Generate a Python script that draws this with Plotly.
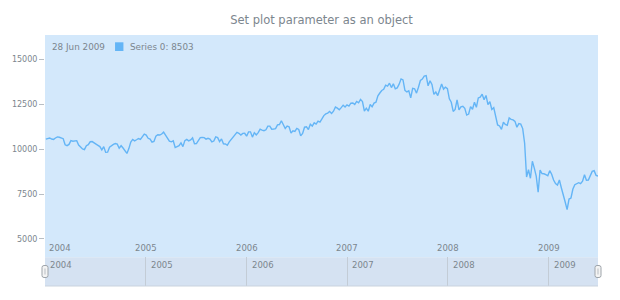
import pandas as pd
import plotly.graph_objects as go

# ---- data (weekly values) ----
start_date = "2004-01-04"
v2004 = [10560, 10600, 10620, 10560, 10540, 10620, 10680, 10660, 10600, 10580,
         10240, 10190, 10260, 10470, 10440, 10460, 10470, 10230, 10120, 10010,
         9970, 10190, 10250, 10410, 10420, 10370, 10280, 10210, 10140, 9960,
         10140, 9820, 9830, 10110, 10200, 10260, 10310, 10280, 10050, 10190,
         10060, 9930, 9760, 10030, 10390, 10540, 10460, 10520, 10590, 10540,
         10660, 10830]
v2005 = [10783, 10603, 10558, 10393, 10427, 10716, 10796, 10785, 10841, 10941,
         10774, 10629, 10442, 10404, 10461, 10088, 10157, 10193, 10345, 10140,
         10471, 10542, 10460, 10512, 10623, 10297, 10303, 10449, 10640, 10651,
         10641, 10558, 10600, 10559, 10397, 10447, 10678, 10641, 10419, 10569,
         10292, 10287, 10215, 10402, 10530, 10686, 10766, 10931, 10877, 10779,
         10875, 10883]
v2006 = [10718, 10959, 10960, 10667, 10907, 10794, 10920, 11115, 11061, 11022,
         11076, 11279, 11280, 11109, 11120, 11137, 11347, 11367, 11577, 11380,
         11144, 11278, 11247, 10891, 11015, 10989, 11150, 11091, 10739, 10868,
         11219, 11240, 11088, 11381, 11284, 11464, 11392, 11560, 11508, 11679,
         11866, 11961, 12002, 12090, 11986, 12108, 12342, 12280, 12194, 12307,
         12445, 12343, 12463]
v2007 = [12398, 12556, 12566, 12487, 12653, 12581, 12768, 12647, 12114, 12277,
         12111, 12481, 12354, 12560, 12613, 12962, 13121, 13264, 13327, 13557,
         13507, 13668, 13424, 13640, 13361, 13409, 13612, 13908, 13851, 13266,
         13182, 13240, 12850, 13379, 13358, 13114, 13442, 13821, 13896, 14066,
         14093, 13522, 13807, 13596, 13043, 13176, 12981, 13372, 13625, 13339,
         13450, 13366]
v2008 = [12800, 12606, 12099, 12207, 12743, 12183, 12348, 12381, 12266, 11894,
         11951, 12361, 12216, 12609, 12325, 12849, 12891, 13058, 12745, 12986,
         12479, 12638, 12209, 12307, 11843, 11346, 11288, 11100, 11496, 11370,
         11326, 11734, 11659, 11628, 11543, 11220, 11421, 11388, 11143, 10325,
         8451, 8852, 8378, 9325, 8943, 8497, 7600, 8829, 8635, 8629,
         8579, 8515]
v2009 = [8800, 8600, 8280, 8080, 8000, 8280, 7850, 7365, 7060, 6630,
         7220, 7280, 7780, 8020, 8080, 8130, 8080, 8210, 8570, 8270,
         8280, 8500, 8760, 8800, 8540, 8503]

values = v2004 + v2005 + v2006 + v2007 + v2008 + v2009
dates = pd.date_range(start_date, periods=len(values), freq="W-SUN")

year_ticks = ["2004", "2005", "2006", "2007", "2008", "2009"]
y_ticks = [5000, 7500, 10000, 12500, 15000]
title_text = "Set plot parameter as an object"
series_name = "Series 0"

# ---- style ----
FONT = "DejaVu Sans"
TXT = "#7c868e"
LINE = "#64b5f6"
MAIN_BG = "#d3e8fb"
SCR_BG = "#d5e2f2"
W, H = 620, 300
ML, MR, MT, MB = 43, 22, 35, 14
split = (H - MB - 257.3) / (H - MT - MB)

def px(x):
    return (x - ML) / (W - ML - MR)

def py(y):
    return (H - MB - y) / (H - MT - MB)

x_range = [pd.Timestamp("2004-01-01"), dates[-1]]

fig = go.Figure()
fig.add_trace(go.Scatter(x=dates, y=values, mode="lines",
                         line=dict(color=LINE, width=1.4),
                         name=series_name, hoverinfo="skip",
                         xaxis="x", yaxis="y"))
# empty trace for scroller axes
fig.add_trace(go.Scatter(x=[dates[0]], y=[None], mode="lines",
                         xaxis="x2", yaxis="y2", showlegend=False,
                         hoverinfo="skip"))

shapes = [
    dict(type="rect", xref="x domain", yref="y domain", x0=0, x1=1, y0=0, y1=1,
         fillcolor=MAIN_BG, line=dict(width=0), layer="below"),
    dict(type="rect", xref="x2 domain", yref="y2 domain", x0=0, x1=1, y0=0, y1=1,
         fillcolor=SCR_BG, line=dict(width=0), layer="below"),
    dict(type="line", xref="x2 domain", yref="y2 domain", x0=0, x1=1, y0=0, y1=0,
         line=dict(color="#c9d3de", width=1)),
    # legend marker square
    dict(type="rect", xref="paper", yref="paper",
         x0=px(113.3), x1=px(121.7), y0=py(51), y1=py(42.3),
         fillcolor=LINE, line=dict(width=0)),
]
# scroller handles
hy = py(271.5)
handle_path = "M -3,-4 Q -3,-6 -1,-6 L 1,-6 Q 3,-6 3,-4 L 3,4 Q 3,6 1,6 L -1,6 Q -3,6 -3,4 Z"
for hx in (0, 1):
    shapes.append(dict(type="path", xref="paper", yref="paper",
                       xsizemode="pixel", ysizemode="pixel",
                       xanchor=hx, yanchor=hy, path=handle_path,
                       fillcolor="#f4f4f4", line=dict(color="#9ea4aa", width=1)))
    shapes.append(dict(type="line", xref="paper", yref="paper",
                       xsizemode="pixel", ysizemode="pixel",
                       xanchor=hx, yanchor=hy, x0=0, x1=0, y0=-3, y1=3,
                       line=dict(color="#b8bdc2", width=1)))

annotations = []
for i, yr in enumerate(year_ticks):
    d = pd.Timestamp(f"{yr}-01-01")
    if i == 0:
        annotations.append(dict(x=x_range[0], y=0.043, xref="x", yref="y domain",
                                text=yr, showarrow=False, xanchor="left",
                                yanchor="middle", xshift=2,
                                font=dict(family=FONT, size=8.5, color=TXT)))
    else:
        annotations.append(dict(x=d, y=0.043, xref="x", yref="y domain",
                                text=yr, showarrow=False, xanchor="center",
                                yanchor="middle",
                                font=dict(family=FONT, size=8.5, color=TXT)))
    annotations.append(dict(x=d if i > 0 else x_range[0], y=0.73, xref="x2",
                            yref="y2 domain", text=yr, showarrow=False,
                            xanchor="left", yanchor="middle", xshift=3,
                            font=dict(family=FONT, size=8.5, color=TXT)))

last_date = dates[-1].strftime("%d %b %Y")
annotations.append(dict(x=px(48), y=py(46.7), xref="paper", yref="paper",
                        text=last_date, showarrow=False, xanchor="left",
                        yanchor="middle",
                        font=dict(family=FONT, size=8.8, color=TXT)))
annotations.append(dict(x=px(126), y=py(46.7), xref="paper", yref="paper",
                        text=f"{series_name}: {values[-1]}", showarrow=False,
                        xanchor="left", yanchor="middle",
                        font=dict(family=FONT, size=8.8, color=TXT)))

fig.update_layout(
    width=W, height=H,
    margin=dict(l=ML, r=MR, t=MT, b=MB, pad=0),
    paper_bgcolor="white", plot_bgcolor="rgba(0,0,0,0)",
    showlegend=False,
    title=dict(text=title_text, x=px(320.5), xref="paper", xanchor="center",
               y=1 - 20 / H, yref="container", yanchor="middle",
               font=dict(family=FONT, size=11.5, color=TXT)),
    xaxis=dict(domain=[0, 1], anchor="y", range=x_range, showgrid=False,
               showticklabels=False, ticks="", zeroline=False, showline=False),
    yaxis=dict(domain=[split, 1], anchor="x", range=[3980, 16350],
               tickvals=y_ticks, ticktext=[str(v) for v in y_ticks],
               ticks="outside", ticklen=5, tickcolor="#b8bec4", tickwidth=1,
               showgrid=False, zeroline=False, showline=False,
               tickfont=dict(family=FONT, size=8, color=TXT)),
    xaxis2=dict(domain=[0, 1], anchor="y2", range=x_range, showgrid=True,
                gridcolor="#c3ccd6", gridwidth=1,
                tickvals=[pd.Timestamp(f"{y}-01-01") for y in year_ticks],
                showticklabels=False, ticks="", zeroline=False, showline=False),
    yaxis2=dict(domain=[0, split], anchor="x2", range=[0, 1], visible=False),
    shapes=shapes,
    annotations=annotations,
)

fig.write_html("out.html", config={"displayModeBar": False})
